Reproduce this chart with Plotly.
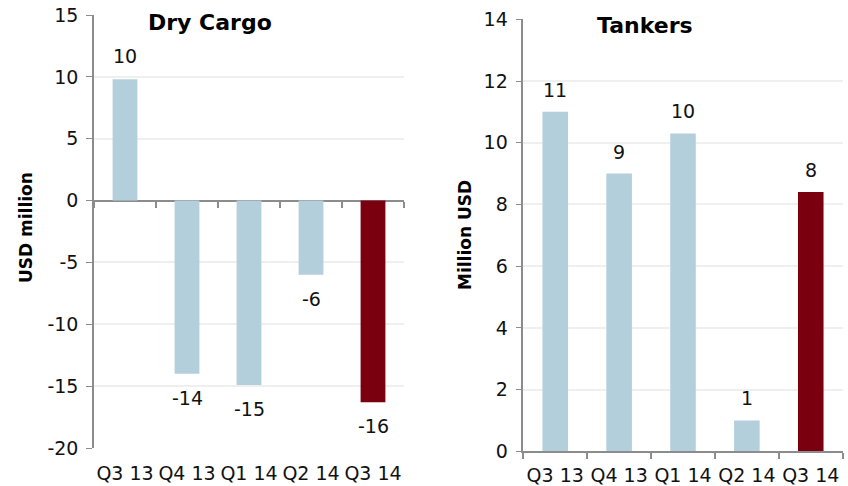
import plotly.graph_objects as go

quarters = ["Q3 13", "Q4 13", "Q1 14", "Q2 14", "Q3 14"]
dry_cargo = [9.8, -14.0, -14.9, -6.0, -16.3]
tankers = [11.0, 9.0, 10.3, 1.0, 8.4]
dry_ticks = [-20, -15, -10, -5, 0, 5, 10, 15]
tank_ticks = [0, 2, 4, 6, 8, 10, 12, 14]

BLUE = "#B4CFDC"
RED = "#7A0010"
bar_colors = [BLUE, BLUE, BLUE, BLUE, RED]
AX = "#8C8C8C"
GRID = "#EFEFEF"
FONT = "DejaVu Sans"

W, H = 848, 486

# plot areas in screen pixels
L_x0, L_x1, L_top, L_bot = 94, 404, 15, 448
R_x0, R_x1, R_top, R_bot = 523.3, 842.7, 19.3, 451.3

def xd(a, b):
    return [a / W, b / W]

def yd(t, b):
    return [1 - b / H, 1 - t / H]

def xp(v):
    return v / W

def yp(v):
    return 1 - v / H

fig = go.Figure()
fig.add_trace(go.Bar(x=quarters, y=dry_cargo, marker=dict(color=bar_colors, line=dict(width=0)),
                     width=0.4, xaxis="x", yaxis="y", showlegend=False))
fig.add_trace(go.Bar(x=quarters, y=tankers, marker=dict(color=bar_colors, line=dict(width=0)),
                     width=0.4, xaxis="x2", yaxis="y2", showlegend=False))
# helper trace so the zero-line tick axis is drawn
fig.add_trace(go.Scatter(x=[], y=[], xaxis="x3", yaxis="y", showlegend=False, hoverinfo="skip"))

dry_range = [-20, 15]
ldom = yd(L_top, L_bot)
zero_frac = ldom[0] + (ldom[1] - ldom[0]) * (0 - dry_range[0]) / (dry_range[1] - dry_range[0])

LBL = dict(size=19, color="#111", family=FONT)
annotations = []
for q, v in zip(quarters, dry_cargo):
    annotations.append(dict(x=q, y=v, xref="x", yref="y", text=f"{round(v)}", showarrow=False,
                            yanchor="middle", yshift=23 if v >= 0 else -24, font=LBL))
for q, v in zip(quarters, tankers):
    annotations.append(dict(x=q, y=v, xref="x2", yref="y2", text=f"{round(v)}", showarrow=False,
                            yanchor="middle", yshift=22, font=LBL))
annotations += [
    dict(x=xp(210), y=yp(22), xref="paper", yref="paper", text="<b>Dry Cargo</b>", showarrow=False,
         xanchor="center", yanchor="middle", font=dict(size=22, color="black", family=FONT)),
    dict(x=xp(645), y=yp(25), xref="paper", yref="paper", text="<b>Tankers</b>", showarrow=False,
         xanchor="center", yanchor="middle", font=dict(size=22, color="black", family=FONT)),
    dict(x=xp(26), y=yp(228), xref="paper", yref="paper", text="<b>USD million</b>", showarrow=False,
         textangle=-90, xanchor="center", yanchor="middle", font=dict(size=17, color="black", family=FONT)),
    dict(x=xp(465), y=yp(235), xref="paper", yref="paper", text="<b>Million USD</b>", showarrow=False,
         textangle=-90, xanchor="center", yanchor="middle", font=dict(size=17, color="black", family=FONT)),
]

tickfont = dict(size=19, color="#111", family=FONT)

fig.update_layout(
    width=W, height=H,
    margin=dict(l=0, r=0, t=0, b=0),
    paper_bgcolor="white", plot_bgcolor="white",
    font=dict(family=FONT),
    annotations=annotations,
    xaxis=dict(domain=xd(L_x0, L_x1), anchor="y", type="category", categoryarray=quarters,
               showline=False, showgrid=False, ticks="", ticklabelstandoff=12, tickangle=0,
               tickfont=tickfont, automargin=False),
    yaxis=dict(domain=ldom, anchor="x", range=dry_range, tickvals=dry_ticks,
               ticktext=[str(v) for v in dry_ticks], ticklabeloverflow="allow",
               showline=True, linecolor=AX, linewidth=1.5, ticks="outside", ticklen=6, tickcolor=AX,
               ticklabelstandoff=4,
               showgrid=True, gridcolor=GRID, gridwidth=1.5,
               zeroline=True, zerolinecolor=AX, zerolinewidth=1.5,
               tickfont=tickfont, automargin=False),
    xaxis3=dict(overlaying="x", anchor="free", position=zero_frac, side="bottom", type="linear",
                range=[-0.5, 4.5], tickvals=[-0.5, 0.5, 1.5, 2.5, 3.5, 4.5], showticklabels=False,
                ticks="outside", ticklen=6, tickcolor=AX, tickwidth=1.5,
                showline=False, showgrid=False, zeroline=False, automargin=False),
    xaxis2=dict(domain=xd(R_x0, R_x1), anchor="y2", type="category", categoryarray=quarters,
                showline=True, linecolor=AX, linewidth=1.5, ticks="outside", ticklen=6, tickcolor=AX,
                tickwidth=1.5, tickson="boundaries", ticklabelstandoff=6, tickangle=0,
                showgrid=False, tickfont=tickfont, automargin=False),
    yaxis2=dict(domain=yd(R_top, R_bot), anchor="x2", range=[0, 14], tickvals=tank_ticks,
                ticktext=[str(v) for v in tank_ticks], ticklabeloverflow="allow",
                showline=True, linecolor=AX, linewidth=1.5, ticks="outside", ticklen=6, tickcolor=AX,
                ticklabelstandoff=4,
                showgrid=True, gridcolor=GRID, gridwidth=1.5, zeroline=False,
                tickfont=tickfont, automargin=False),
)

fig.write_html("out.html", config={"displayModeBar": False},
               post_script="document.body.style.margin='0';")
